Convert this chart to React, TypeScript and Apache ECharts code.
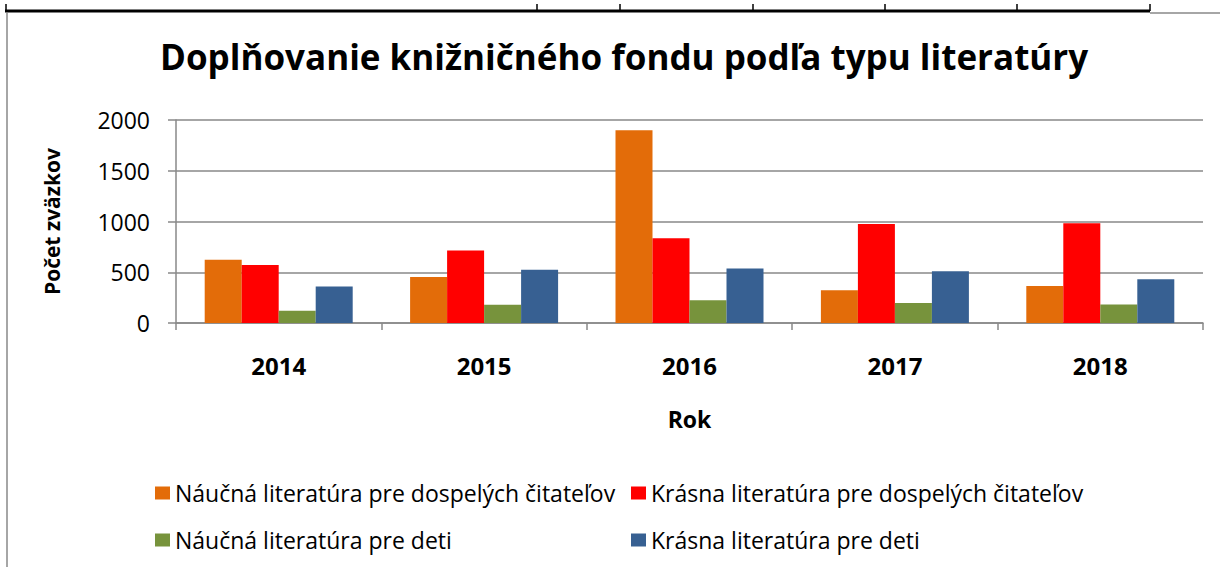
import React, { useEffect, useRef } from "react";
import * as echarts from "echarts";

const years = ["2014", "2015", "2016", "2017", "2018"];
const seriesNames = [
  "Náučná literatúra pre dospelých čitateľov",
  "Krásna literatúra pre dospelých čitateľov",
  "Náučná literatúra pre deti",
  "Krásna literatúra pre deti",
];
const naucnaDospeli = [623, 453, 1899, 323, 365];
const krasnaDospeli = [571, 714, 835, 975, 982];
const naucnaDeti = [121, 179, 225, 196, 183];
const krasnaDeti = [359, 525, 538, 509, 431];
const colors = ["#E36C09", "#FF0000", "#77933C", "#376092"];
const titleText = "Doplňovanie knižničného fondu podľa typu literatúry";
const yAxisName = "Počet zväzkov";
const xAxisName = "Rok";

const FONT = "'Open Sans', sans-serif";

export default function App() {
  const ref = useRef<HTMLDivElement>(null);
  useEffect(() => {
    document.body.style.margin = "0";
    const chart = echarts.init(ref.current!, null, { renderer: "svg" });
    const values = [naucnaDospeli, krasnaDospeli, naucnaDeti, krasnaDeti];
    const legendPos = [
      { left: 155, top: 480 },
      { left: 631, top: 480 },
      { left: 155, top: 527 },
      { left: 631, top: 527 },
    ];
    const frameTicks = [6, 537, 620, 753, 885, 1017, 1150];
    chart.setOption({
      animation: false,
      backgroundColor: "#ffffff",
      textStyle: { fontFamily: FONT },
      title: {
        text: titleText,
        left: 155,
        top: 34,
        textStyle: { fontFamily: FONT, fontSize: 35, fontWeight: "bold", color: "#000" },
      },
      legend: seriesNames.map((n, i) => ({
        data: [n],
        left: legendPos[i].left,
        top: legendPos[i].top,
        padding: 0,
        itemWidth: 15,
        itemHeight: 13,
        icon: "rect",
        textStyle: { fontFamily: FONT, fontSize: 23, color: "#000", lineHeight: 26 },
      })),
      grid: { left: 176, right: 17, top: 120, bottom: 244 },
      xAxis: {
        type: "category",
        data: years,
        name: xAxisName,
        nameLocation: "middle",
        nameGap: 84,
        nameTextStyle: { fontFamily: FONT, fontSize: 23, fontWeight: "bold", color: "#000" },
        axisLine: { lineStyle: { color: "#898989", width: 1.5 } },
        axisTick: { show: true, length: 7, lineStyle: { color: "#898989", width: 1.5 } },
        axisLabel: { margin: 30, fontFamily: FONT, fontSize: 24, fontWeight: "bold", color: "#000" },
      },
      yAxis: {
        type: "value",
        min: 0,
        max: 2000,
        interval: 500,
        name: yAxisName,
        nameLocation: "middle",
        nameGap: 114,
        nameRotate: 90,
        nameTextStyle: { fontFamily: FONT, fontSize: 21, fontWeight: "bold", color: "#000" },
        axisLine: { show: true, lineStyle: { color: "#898989", width: 1.5 } },
        axisTick: { show: true, length: 8, lineStyle: { color: "#898989", width: 1.5 } },
        splitLine: { lineStyle: { color: "#898989", width: 1.5 } },
        axisLabel: {
          margin: 26,
          fontFamily: FONT,
          fontSize: 23,
          color: "#000",
          formatter: (v: number) => String(v),
        },
      },
      series: seriesNames.map((n, i) => ({
        name: n,
        type: "bar",
        data: values[i],
        barWidth: 37,
        barGap: "0%",
        itemStyle: { color: colors[i] },
      })),
      graphic: [
        {
          type: "line",
          shape: { x1: 1150, y1: 13, x2: 1220, y2: 13 },
          style: { stroke: "#a6a6a6", lineWidth: 2 },
          silent: true,
        },
        {
          type: "line",
          shape: { x1: 7, y1: 13, x2: 7, y2: 567 },
          style: { stroke: "#a6a6a6", lineWidth: 2 },
          silent: true,
        },
        {
          type: "line",
          shape: { x1: 5, y1: 11, x2: 1150, y2: 11 },
          style: { stroke: "#000", lineWidth: 3 },
          silent: true,
        },
        ...frameTicks.map((x) => ({
          type: "line",
          shape: { x1: x, y1: 4, x2: x, y2: 11 },
          style: { stroke: "#000", lineWidth: 1.5 },
          silent: true,
        })),
      ],
    });
    return () => chart.dispose();
  }, []);
  return <div ref={ref} style={{ width: 1220, height: 567 }} />;
}
